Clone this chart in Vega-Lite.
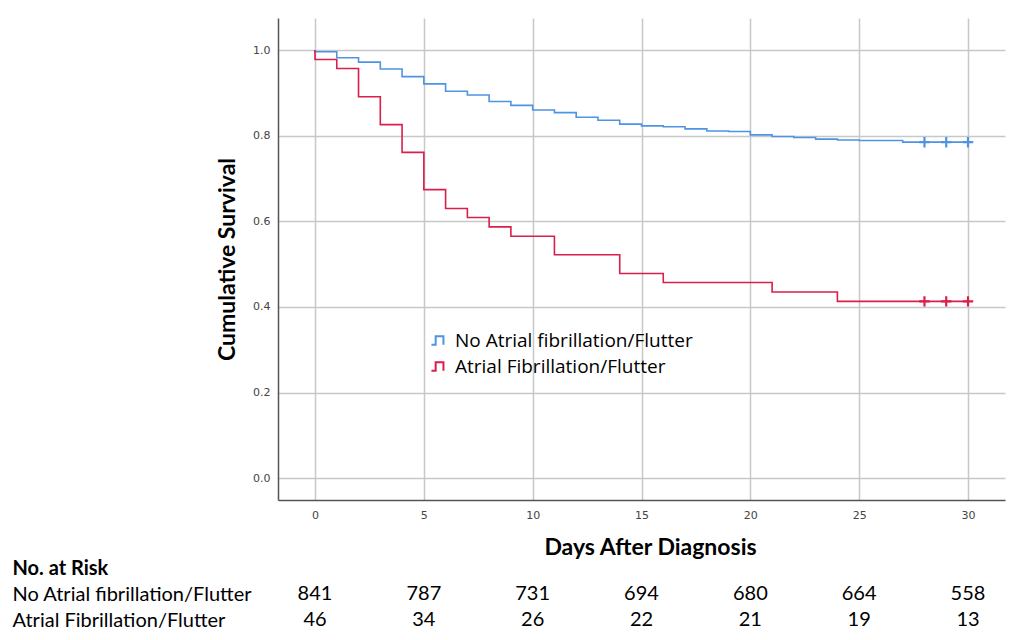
{
  "$schema": "https://vega.github.io/schema/vega-lite/v6.json",
  "padding": {"left": 12, "top": 18, "right": 5, "bottom": 7},
  "background": "white",
  "bounds": "flush",
  "spacing": 81,
  "config": {"view": {"stroke": null}},
  "datasets": {
    "curves": [
      {"group": "No Atrial fibrillation/Flutter", "seq": 0, "day": 0, "survival": 1.0},
      {"group": "No Atrial fibrillation/Flutter", "seq": 1, "day": 0, "survival": 0.996},
      {"group": "No Atrial fibrillation/Flutter", "seq": 2, "day": 1, "survival": 0.982},
      {"group": "No Atrial fibrillation/Flutter", "seq": 3, "day": 2, "survival": 0.972},
      {"group": "No Atrial fibrillation/Flutter", "seq": 4, "day": 3, "survival": 0.956},
      {"group": "No Atrial fibrillation/Flutter", "seq": 5, "day": 4, "survival": 0.938},
      {"group": "No Atrial fibrillation/Flutter", "seq": 6, "day": 5, "survival": 0.921},
      {"group": "No Atrial fibrillation/Flutter", "seq": 7, "day": 6, "survival": 0.904},
      {"group": "No Atrial fibrillation/Flutter", "seq": 8, "day": 7, "survival": 0.895},
      {"group": "No Atrial fibrillation/Flutter", "seq": 9, "day": 8, "survival": 0.880},
      {"group": "No Atrial fibrillation/Flutter", "seq": 10, "day": 9, "survival": 0.871},
      {"group": "No Atrial fibrillation/Flutter", "seq": 11, "day": 10, "survival": 0.860},
      {"group": "No Atrial fibrillation/Flutter", "seq": 12, "day": 11, "survival": 0.854},
      {"group": "No Atrial fibrillation/Flutter", "seq": 13, "day": 12, "survival": 0.843},
      {"group": "No Atrial fibrillation/Flutter", "seq": 14, "day": 13, "survival": 0.836},
      {"group": "No Atrial fibrillation/Flutter", "seq": 15, "day": 14, "survival": 0.827},
      {"group": "No Atrial fibrillation/Flutter", "seq": 16, "day": 15, "survival": 0.823},
      {"group": "No Atrial fibrillation/Flutter", "seq": 17, "day": 16, "survival": 0.821},
      {"group": "No Atrial fibrillation/Flutter", "seq": 18, "day": 17, "survival": 0.816},
      {"group": "No Atrial fibrillation/Flutter", "seq": 19, "day": 18, "survival": 0.811},
      {"group": "No Atrial fibrillation/Flutter", "seq": 20, "day": 19, "survival": 0.810},
      {"group": "No Atrial fibrillation/Flutter", "seq": 21, "day": 20, "survival": 0.802},
      {"group": "No Atrial fibrillation/Flutter", "seq": 22, "day": 21, "survival": 0.798},
      {"group": "No Atrial fibrillation/Flutter", "seq": 23, "day": 22, "survival": 0.796},
      {"group": "No Atrial fibrillation/Flutter", "seq": 24, "day": 23, "survival": 0.792},
      {"group": "No Atrial fibrillation/Flutter", "seq": 25, "day": 24, "survival": 0.790},
      {"group": "No Atrial fibrillation/Flutter", "seq": 26, "day": 25, "survival": 0.789},
      {"group": "No Atrial fibrillation/Flutter", "seq": 27, "day": 27, "survival": 0.785},
      {"group": "No Atrial fibrillation/Flutter", "seq": 28, "day": 30, "survival": 0.785},
      {"group": "Atrial Fibrillation/Flutter", "seq": 0, "day": 0, "survival": 1.0},
      {"group": "Atrial Fibrillation/Flutter", "seq": 1, "day": 0, "survival": 0.978},
      {"group": "Atrial Fibrillation/Flutter", "seq": 2, "day": 1, "survival": 0.957},
      {"group": "Atrial Fibrillation/Flutter", "seq": 3, "day": 2, "survival": 0.891},
      {"group": "Atrial Fibrillation/Flutter", "seq": 4, "day": 3, "survival": 0.826},
      {"group": "Atrial Fibrillation/Flutter", "seq": 5, "day": 4, "survival": 0.761},
      {"group": "Atrial Fibrillation/Flutter", "seq": 6, "day": 5, "survival": 0.674},
      {"group": "Atrial Fibrillation/Flutter", "seq": 7, "day": 6, "survival": 0.630},
      {"group": "Atrial Fibrillation/Flutter", "seq": 8, "day": 7, "survival": 0.609},
      {"group": "Atrial Fibrillation/Flutter", "seq": 9, "day": 8, "survival": 0.587},
      {"group": "Atrial Fibrillation/Flutter", "seq": 10, "day": 9, "survival": 0.565},
      {"group": "Atrial Fibrillation/Flutter", "seq": 11, "day": 11, "survival": 0.522},
      {"group": "Atrial Fibrillation/Flutter", "seq": 12, "day": 14, "survival": 0.478},
      {"group": "Atrial Fibrillation/Flutter", "seq": 13, "day": 16, "survival": 0.457},
      {"group": "Atrial Fibrillation/Flutter", "seq": 14, "day": 21, "survival": 0.435},
      {"group": "Atrial Fibrillation/Flutter", "seq": 15, "day": 24, "survival": 0.413},
      {"group": "Atrial Fibrillation/Flutter", "seq": 16, "day": 30, "survival": 0.413}
    ],
    "censored": [
      {"group": "No Atrial fibrillation/Flutter", "day": 28, "survival": 0.785},
      {"group": "No Atrial fibrillation/Flutter", "day": 29, "survival": 0.785},
      {"group": "No Atrial fibrillation/Flutter", "day": 30, "survival": 0.785},
      {"group": "Atrial Fibrillation/Flutter", "day": 28, "survival": 0.413},
      {"group": "Atrial Fibrillation/Flutter", "day": 29, "survival": 0.413},
      {"group": "Atrial Fibrillation/Flutter", "day": 30, "survival": 0.413}
    ],
    "risk": [
      {"group": "No Atrial fibrillation/Flutter", "day": 0, "n": 841},
      {"group": "No Atrial fibrillation/Flutter", "day": 5, "n": 787},
      {"group": "No Atrial fibrillation/Flutter", "day": 10, "n": 731},
      {"group": "No Atrial fibrillation/Flutter", "day": 15, "n": 694},
      {"group": "No Atrial fibrillation/Flutter", "day": 20, "n": 680},
      {"group": "No Atrial fibrillation/Flutter", "day": 25, "n": 664},
      {"group": "No Atrial fibrillation/Flutter", "day": 30, "n": 558},
      {"group": "Atrial Fibrillation/Flutter", "day": 0, "n": 46},
      {"group": "Atrial Fibrillation/Flutter", "day": 5, "n": 34},
      {"group": "Atrial Fibrillation/Flutter", "day": 10, "n": 26},
      {"group": "Atrial Fibrillation/Flutter", "day": 15, "n": 22},
      {"group": "Atrial Fibrillation/Flutter", "day": 20, "n": 21},
      {"group": "Atrial Fibrillation/Flutter", "day": 25, "n": 19},
      {"group": "Atrial Fibrillation/Flutter", "day": 30, "n": 13}
    ]
  },
  "vconcat": [
    {
      "width": 727,
      "height": 482,
      "layer": [
        {
          "data": {"name": "curves"},
          "mark": {"type": "line", "interpolate": "step-after", "strokeWidth": 1.6},
          "encoding": {
            "x": {
              "field": "day", "type": "quantitative",
              "scale": {"domain": [-1.7, 31.7], "nice": false, "zero": false},
              "axis": {
                "values": [0, 5, 10, 15, 20, 25, 30],
                "title": "Days After Diagnosis",
                "titleFont": "Lato", "titleFontSize": 23, "titleFontWeight": "bold", "titleColor": "black",
                "titlePadding": 16, "titleX": 372, "titleAlign": "center",
                "labelFont": "DejaVu Sans", "labelFontSize": 11, "labelColor": "#444",
                "labelPadding": 9,
                "ticks": false, "tickSize": 0,
                "domainColor": "#555", "domainWidth": 1.5,
                "grid": true, "gridColor": "#c8c8c8", "gridWidth": 1.5
              }
            },
            "y": {
              "field": "survival", "type": "quantitative",
              "scale": {"domain": [-0.051, 1.075], "nice": false, "zero": false},
              "axis": {
                "values": [0, 0.2, 0.4, 0.6, 0.8, 1.0],
                "format": ".1f",
                "title": "Cumulative Survival",
                "titleFont": "Lato", "titleFontSize": 23, "titleFontWeight": "bold", "titleColor": "black",
                "titlePadding": 13,
                "labelFont": "DejaVu Sans", "labelFontSize": 11, "labelColor": "#444",
                "labelPadding": 8,
                "ticks": false, "tickSize": 0,
                "domainColor": "#555", "domainWidth": 1.5,
                "grid": true, "gridColor": "#c8c8c8", "gridWidth": 1.5
              }
            },
            "color": {
              "field": "group", "type": "nominal",
              "scale": {
                "domain": ["No Atrial fibrillation/Flutter", "Atrial Fibrillation/Flutter"],
                "range": ["#4f94e3", "#d91f4b"]
              },
              "legend": {
                "orient": "none", "legendX": 151, "legendY": 313,
                "title": null,
                "symbolType": "M-1,0.6L-0.4,0.6L-0.4,-0.6L0.7,-0.6L0.7,0.6",
                "symbolSize": 200, "symbolStrokeWidth": 2, "symbolFillColor": "transparent",
                "labelFont": "Open Sans", "labelFontSize": 19, "labelColor": "black",
                "labelOffset": 7, "rowPadding": 6, "labelLimit": 400
              }
            },
            "order": {"field": "seq", "type": "quantitative"}
          }
        },
        {
          "data": {"name": "censored"},
          "mark": {"type": "point", "shape": "M-1,0L1,0M0,-1L0,1", "filled": false, "strokeWidth": 2.2, "size": 110, "opacity": 1},
          "encoding": {
            "x": {"field": "day", "type": "quantitative"},
            "y": {"field": "survival", "type": "quantitative"},
            "color": {"field": "group", "type": "nominal"}
          }
        }
      ]
    },
    {
      "width": 727,
      "height": 52,
      "data": {"name": "risk"},
      "mark": {"type": "text", "font": "Lato", "fontSize": 20, "color": "black", "align": "center", "baseline": "middle"},
      "encoding": {
        "x": {
          "field": "day", "type": "quantitative",
          "scale": {"domain": [-1.7, 31.7], "nice": false, "zero": false},
          "axis": null
        },
        "y": {
          "field": "group", "type": "nominal",
          "sort": ["No Atrial fibrillation/Flutter", "Atrial Fibrillation/Flutter"],
          "axis": {
            "domain": false, "ticks": false, "tickSize": 0, "grid": false,
            "labelAlign": "left", "labelPadding": 266, "labelLimit": 400,
            "labelFont": "Lato", "labelFontSize": 20, "labelColor": "black",
            "title": "No. at Risk",
            "titleFont": "Lato", "titleFontSize": 20, "titleFontWeight": "bold", "titleColor": "black",
            "titleAngle": 0, "titleAlign": "left", "titleBaseline": "middle",
            "titleX": -266, "titleY": -13
          }
        },
        "text": {"field": "n", "type": "quantitative"}
      }
    }
  ]
}
